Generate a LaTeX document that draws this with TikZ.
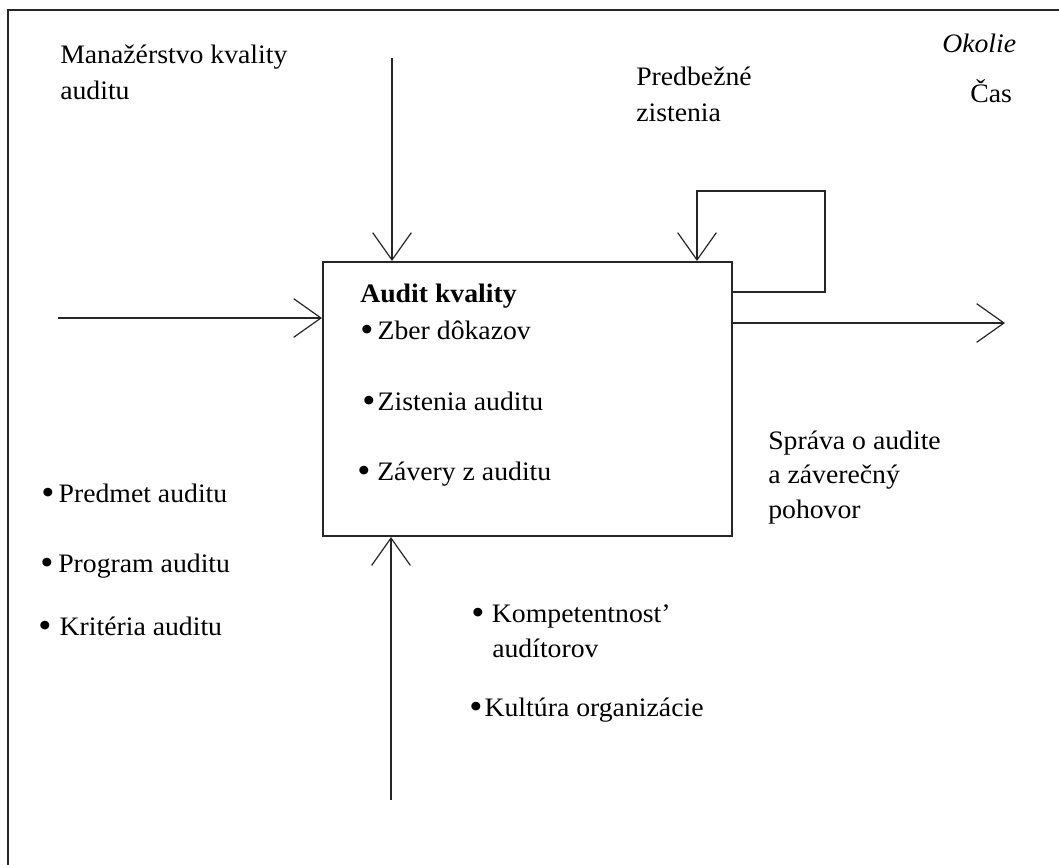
\documentclass[tikz,border=0pt]{standalone}
\usepackage{fontspec}
\setmainfont{Liberation Serif}[FakeStretch=1.04]
\usetikzlibrary{arrows.meta}
\newcommand\bul[1]{\makebox[#1][l]{\raisebox{-1.8pt}{\fontsize{27}{27}\selectfont •}}}
\begin{document}
\begin{tikzpicture}[x=0.75pt,y=-0.75pt,
  ln/.style={line width=1.5pt, draw=black!85},
  arr/.style={ln, -{Straight Barb[length=20.5pt,width=29pt,line width=0.9pt]}},
  lbl/.style={anchor=base west, inner sep=0pt, font=\fontsize{20}{27}\selectfont},
  boxstyle/.style={draw=black!85, line width=1.5pt, minimum width=306.75pt, minimum height=205.5pt, inner sep=0pt}]
\useasboundingbox (0,0) rectangle (1059,864);
% outer frame
\draw[ln] (8,870) -- (8,10) -- (1065,10);
% process box
\node[boxstyle] (box) at (527.5,399) {};
% free ends
\coordinate (topin) at (392,58);
\coordinate (leftin) at (58,318);
\coordinate (botin) at (391,800);
\coordinate (outend) at (1005,323);
\coordinate (loopa) at (825,292);
\coordinate (loopb) at (825,191);
\coordinate (loopc) at (697,191);
% connectors
\draw[arr] (topin) -- (topin |- box.north);
\draw[arr] (leftin) -- (leftin -| box.west);
\draw[arr] (botin) -- (botin |- box.south);
\draw[arr] (outend -| box.east) -- (outend);
\draw[arr] (loopa -| box.east) -- (loopa) -- (loopb) -- (loopc) -- (loopc |- box.north);
% texts
\node[lbl] (m1) at (60,63) {Manažérstvo kvality};
\node[lbl] (m2) at (60,99) {auditu};
\node[lbl] (p1) at (636,85) {Predbežné};
\node[lbl] (p2) at (636,121) {zistenia};
\node[lbl] (ok) at (942,52) {\itshape Okolie};
\node[lbl] (cas) at (970,102) {Čas};
\node[lbl] (ak) at (360,302) {\bfseries Audit kvality};
\node[lbl] (b1) at (360,339) {\bul{13pt}Zber dôkazov};
\node[lbl] (b2) at (362,410) {\bul{11.5pt}Zistenia auditu};
\node[lbl] (b3) at (357,480) {\bul{15pt}Závery z auditu};
\node[lbl] (s1) at (768,449) {Správa o audite};
\node[lbl] (s2) at (768,483) {a záverečný};
\node[lbl] (s3) at (768,518) {pohovor};
\node[lbl] (l1) at (41,502) {\bul{13pt}Predmet auditu};
\node[lbl] (l2) at (40,572) {\bul{13.5pt}Program auditu};
\node[lbl] (l3) at (38,635) {\bul{16pt}Kritéria auditu};
\node[lbl] (k1) at (471,622) {\bul{15.5pt}Kompetentnost’};
\node[lbl] (k2) at (492,657) {audítorov};
\node[lbl] (k3) at (469,716) {\bul{11.5pt}Kultúra organizácie};
\end{tikzpicture}
\end{document}
